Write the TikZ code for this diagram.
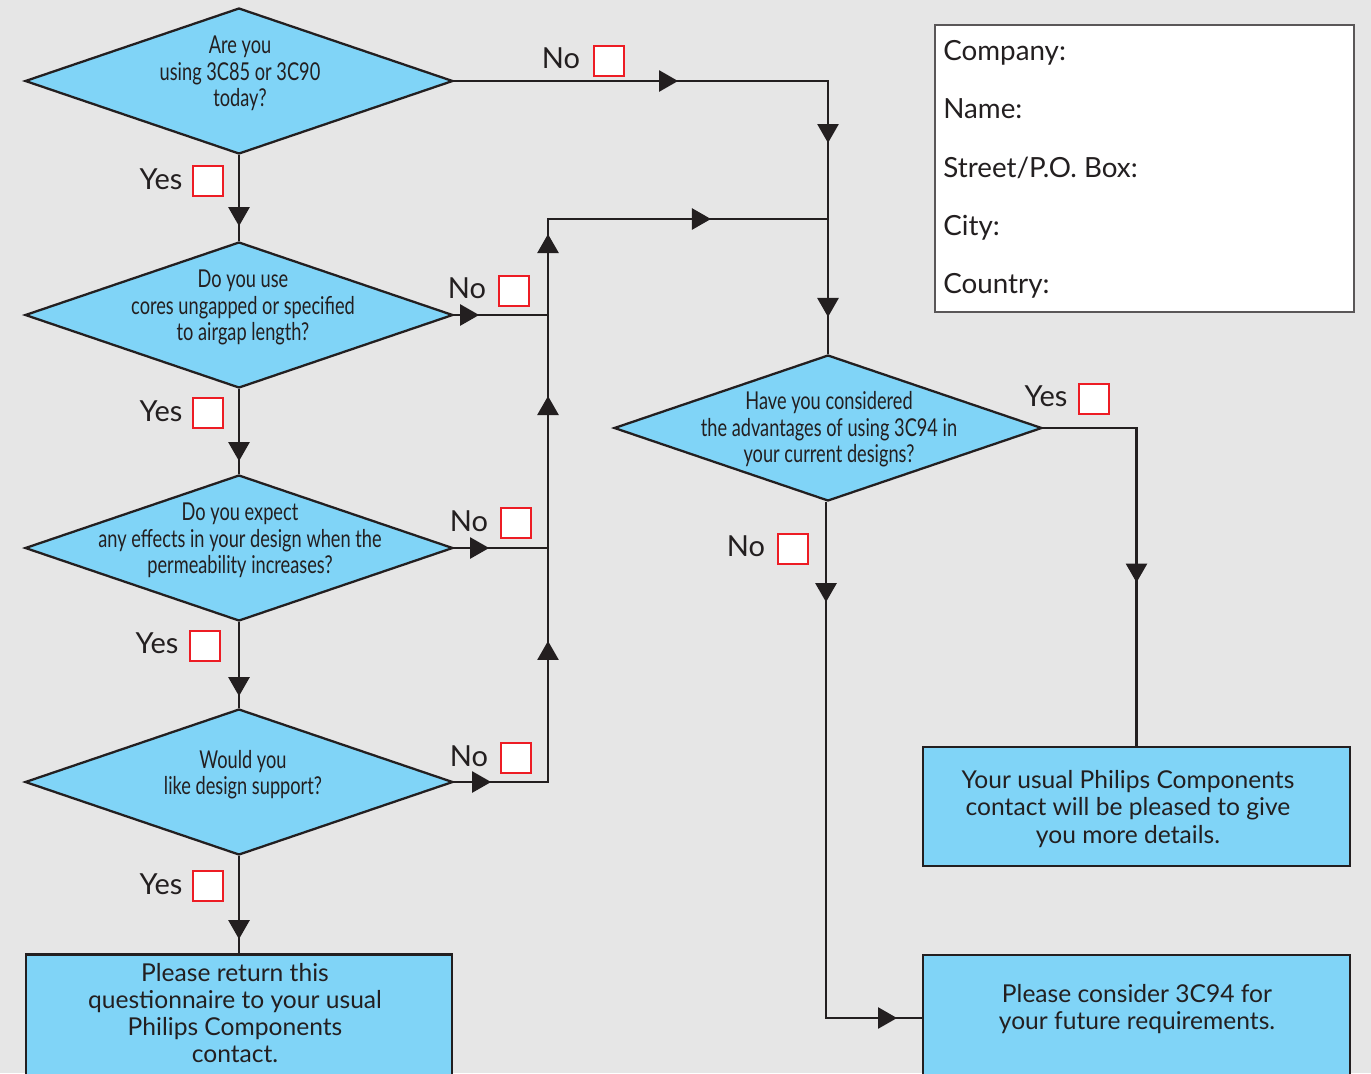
\documentclass[tikz,border=0pt]{standalone}
\usepackage{fontspec}
\setmainfont{Lato}
\usetikzlibrary{shapes.geometric,arrows.meta,decorations.markings}
\definecolor{bg}{HTML}{E6E6E6}
\definecolor{fillb}{HTML}{80D4F7}
\definecolor{ink}{HTML}{231F20}
\definecolor{chk}{HTML}{ED1C24}
\newcommand{\cnd}[1]{\scalebox{0.74}[1]{\fontsize{14}{15.1}\selectfont\begin{tabular}{@{}c@{}}#1\end{tabular}}}
\begin{document}
\begin{tikzpicture}[x=0.02cm,y=-0.02cm,
  dia/.style={diamond,draw=ink,fill=fillb,line width=1.3pt,inner sep=0pt,
    minimum width=8.56cm,minimum height=2.92cm},
  boxn/.style={rectangle,draw=ink,fill=fillb,line width=1.3pt,inner sep=0pt},
  qtext/.style={inner sep=0pt,text=ink},
  btext/.style={inner sep=0pt,text=ink,align=center,font=\fontsize{14}{15.4}\selectfont},
  lbl/.style={inner sep=0pt,anchor=base,text=ink,font=\fontsize{16.5}{20}\selectfont},
  addr/.style={inner sep=0pt,anchor=base west,text=ink,font=\fontsize{15.8}{20}\selectfont},
  chkbox/.style={rectangle,draw=chk,fill=white,line width=1.5pt,minimum size=0.6cm,inner sep=0pt},
  conn/.style={draw=ink,line width=1.5pt},
  arr/.style={postaction={decorate,decoration={markings,
      mark=at position #1 with {\arrow{Triangle[length=0.38cm,width=0.42cm]}}}}}
]
\clip (0,0) rectangle (1371,1073);
\fill[bg] (0,0) rectangle (1371,1073);

% decision diamonds
\node[dia] (d1) at (239,81) {};
\node[dia] (d2) at (239,315) {};
\node[dia] (d3) at (239,548) {};
\node[dia] (d4) at (239,782) {};
\node[dia] (d5) at (828,428) {};

\node[qtext] (t1) at (240,75) {\cnd{Are you\\using 3C85 or 3C90\\today?}};
\node[qtext] (t2) at (243,309) {\cnd{Do you use\\cores ungapped or specified\\to airgap length?}};
\node[qtext] (t3) at (240,542) {\cnd{Do you expect\\any effects in your design when the\\permeability increases?}};
\node[qtext] (t4) at (243,776) {\cnd{Would you\\like design support?}};
\node[qtext] (t5) at (829,431) {\cnd{Have you considered\\the advantages of using 3C94 in\\your current designs?}};

% result boxes
\node[boxn,minimum width=8.52cm,minimum height=3.1cm] (b1) at (239,1032) {};
\node[boxn,minimum width=8.54cm,minimum height=2.38cm] (r1) at (1136.5,806.5) {};
\node[boxn,minimum width=8.54cm,minimum height=2.52cm] (r2) at (1136.5,1018) {};

\node[btext] (bt1) at (235,1013) {Please return this\\questionnaire to your usual\\Philips Components\\contact.};
\node[btext] (rt1) at (1128,809) {Your usual Philips Components\\contact will be pleased to give\\you more details.};
\node[btext] (rt2) at (1137,1009) {Please consider 3C94 for\\your future requirements.};

% address box
\node[rectangle,draw=ink!75,fill=white,line width=0.7pt,minimum width=8.38cm,minimum height=5.74cm,inner sep=0pt] (ab) at (1144.5,168.5) {};
\node[addr] (a1) at (943,60) {Company:};
\node[addr] (a2) at (943,118) {Name:};
\node[addr] (a3) at (943,177) {Street/P.O. Box:};
\node[addr] (a4) at (943,235) {City:};
\node[addr] (a5) at (943,293) {Country:};

% junction coordinates
\coordinate (j2) at (548,315);
\coordinate (j3) at (548,548);
\coordinate (j4) at (548,782);
\coordinate (jt) at (548,219);
\coordinate (m1) at (828,219);

% connectors
\draw[conn,arr=1.42cm] (d1.south) -- (d2.north);
\draw[conn,arr=1.44cm] (d2.south) -- (d3.north);
\draw[conn,arr=1.48cm] (d3.south) -- (d4.north);
\draw[conn,arr=1.66cm] (d4.south) -- (b1.north);
\draw[conn,arr=4.48cm,arr=8.72cm,arr=12.2cm] (d1.east) -| (d5.north);
\draw[conn,arr=0.5cm] (d2.east) -- (j2);
\draw[conn,arr=0.7cm] (d3.east) -- (j3);
\draw[conn,arr=0.74cm,arr=4.7cm,arr=9.6cm,arr=12.84cm,arr=16.4cm] (d4.east) -- (j4) -- (jt) -- (m1);
\draw[conn,arr=4.96cm] (d5.east) -| (r1.north);
\draw[conn,arr=2.0cm,arr=11.74cm] ([xshift=-0.04cm]d5.south) |- (r2.west);

% answer labels and checkboxes
\node[lbl] (n1) at (561,68) {No};   \node[chkbox] (c1) at (609,61) {};
\node[lbl] (y1) at (161,189) {Yes}; \node[chkbox] (c2) at (208,181) {};
\node[lbl] (n2) at (467,298) {No};  \node[chkbox] (c3) at (514,291) {};
\node[lbl] (y2) at (161,421) {Yes}; \node[chkbox] (c4) at (208,413) {};
\node[lbl] (n3) at (469,531) {No};  \node[chkbox] (c5) at (516,523) {};
\node[lbl] (y3) at (157,653) {Yes}; \node[chkbox] (c6) at (205,646) {};
\node[lbl] (n4) at (469,766) {No};  \node[chkbox] (c7) at (516,758) {};
\node[lbl] (y4) at (161,894) {Yes}; \node[chkbox] (c8) at (208,886) {};
\node[lbl] (y5) at (1046,406) {Yes};\node[chkbox] (c9) at (1094,399) {};
\node[lbl] (n5) at (746,556) {No};  \node[chkbox] (c10) at (793,549) {};
\end{tikzpicture}
\end{document}
